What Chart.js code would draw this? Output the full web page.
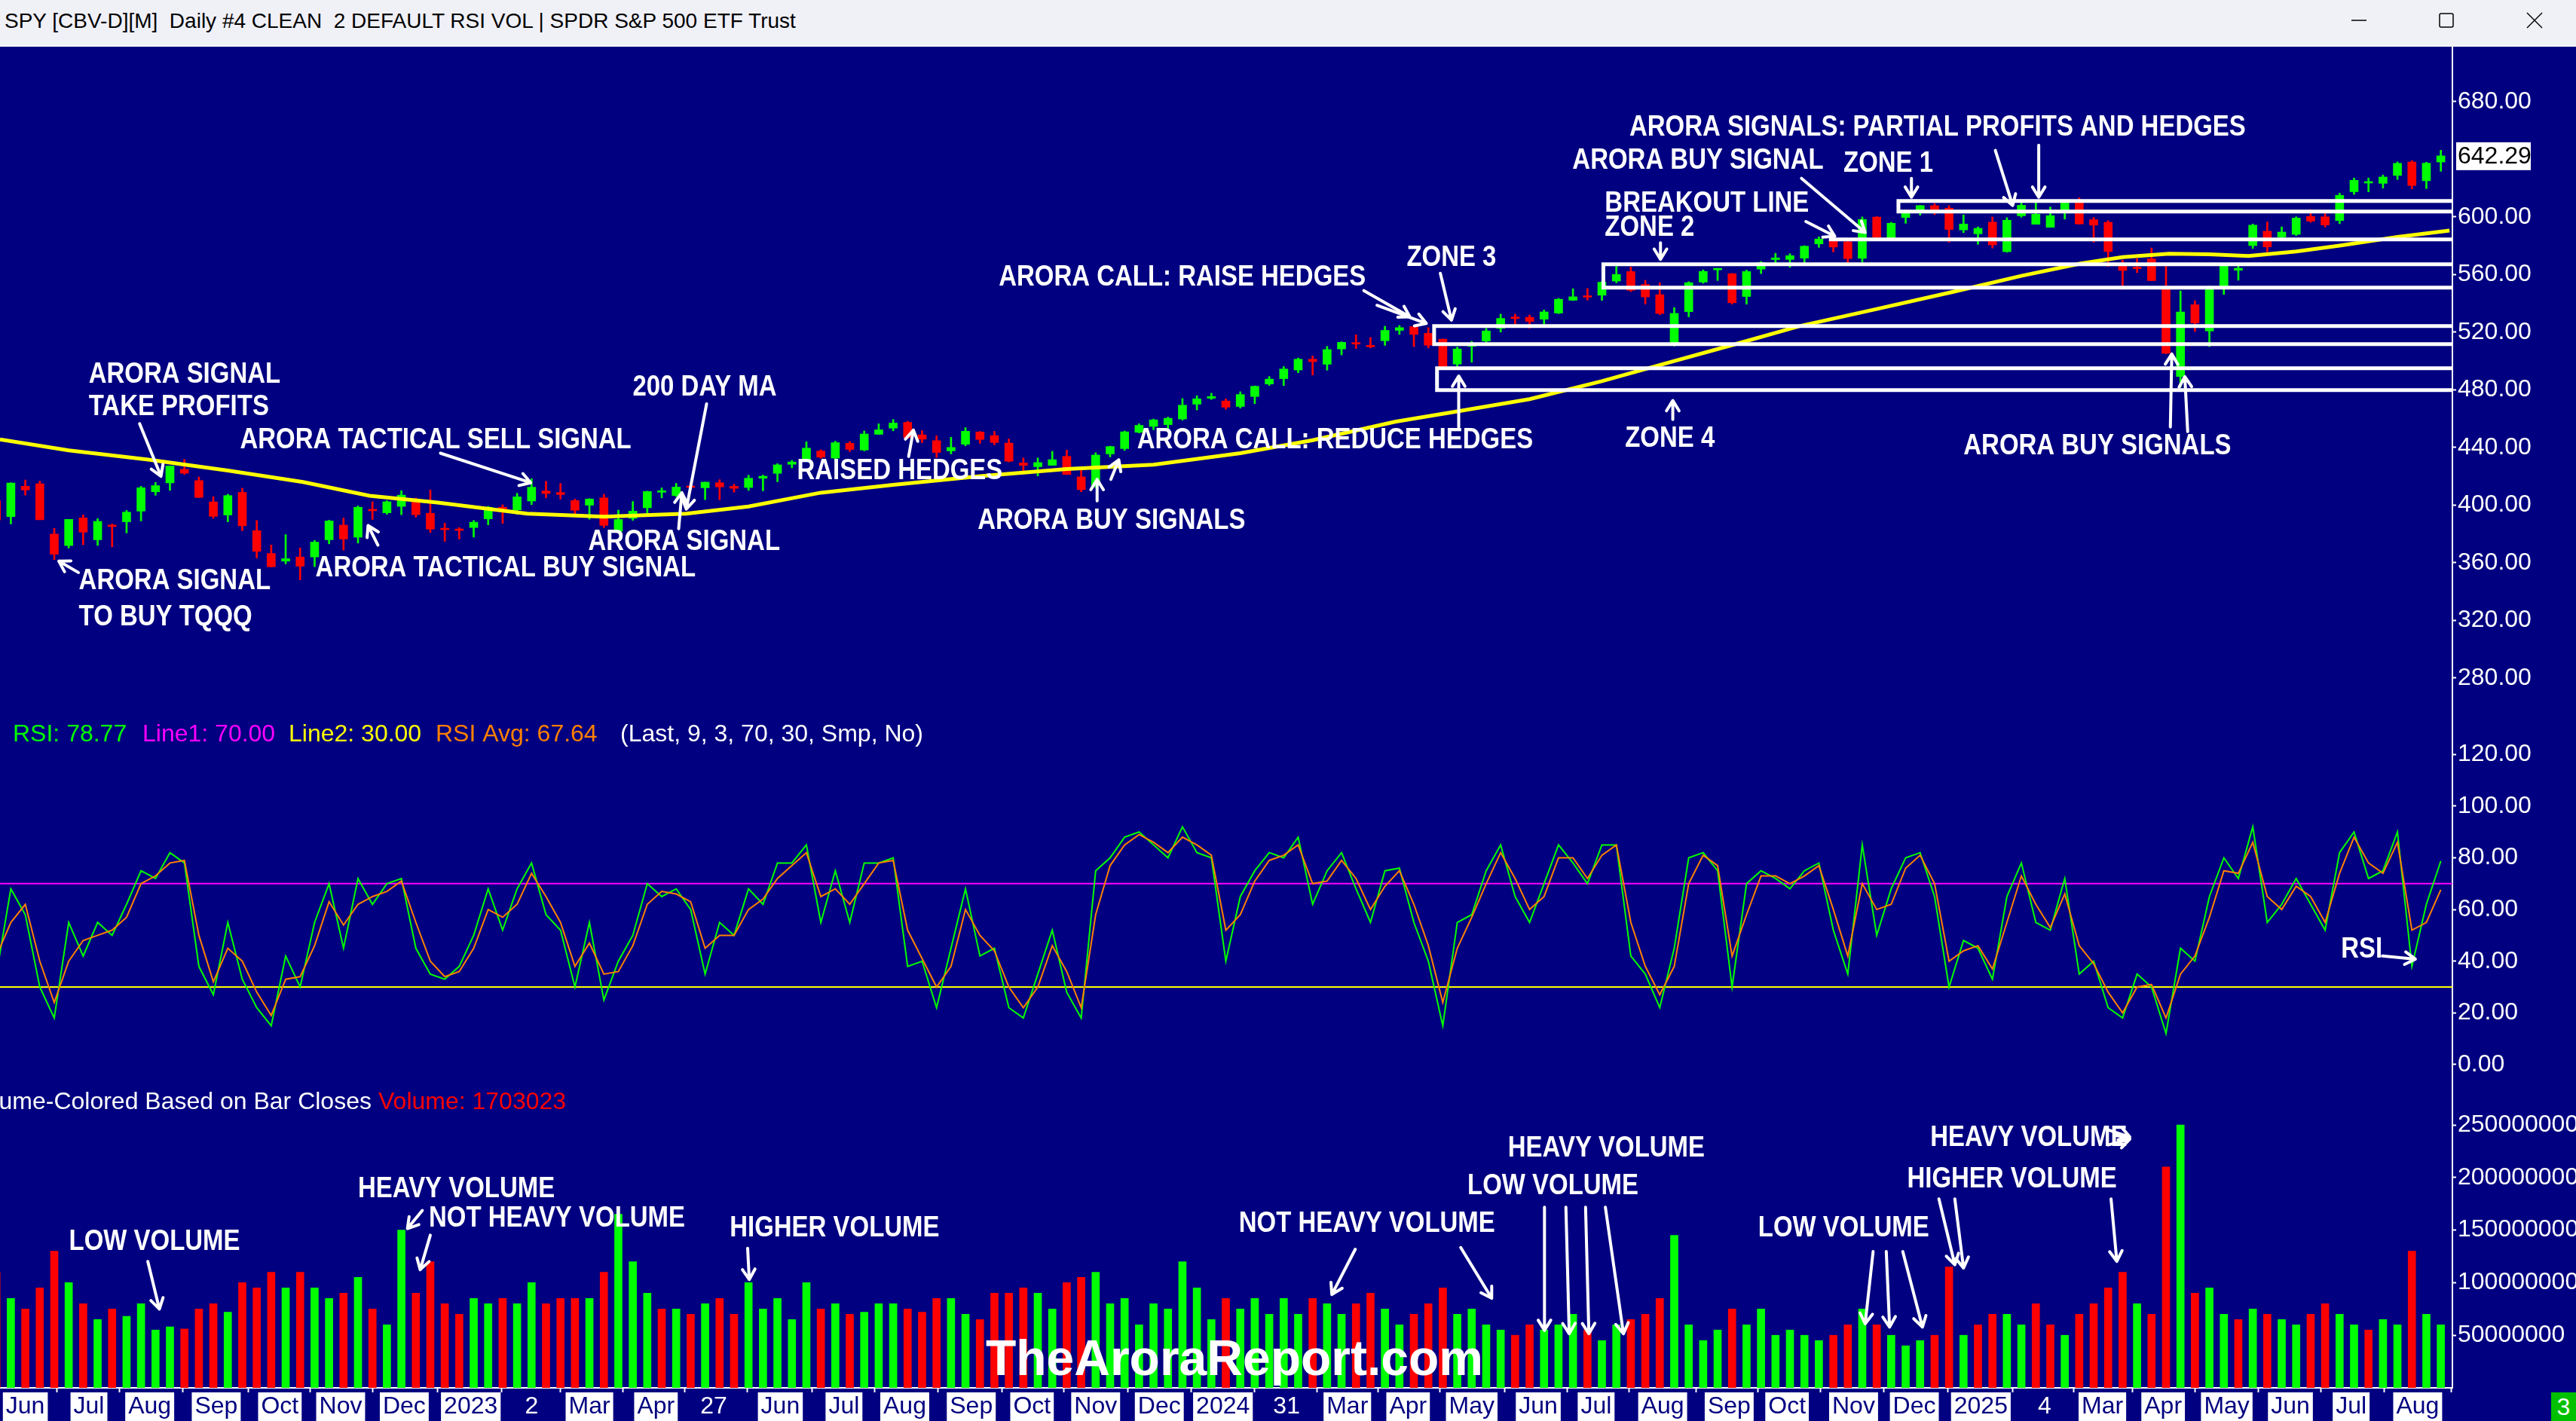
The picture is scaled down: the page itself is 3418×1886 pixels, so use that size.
<!DOCTYPE html>
<html>
<head>
<meta charset="utf-8">
<title>SPY Daily</title>
<script src="https://cdn.jsdelivr.net/npm/chart.js@4.4.1/dist/chart.umd.min.js"></script>
<style>
  html, body { margin: 0; padding: 0; background: #000080; overflow: hidden; width: 3418px; height: 1886px; }
  #bar { position: absolute; left: 0; top: 0; width: 3418px; height: 62px; background: #f0f0f7; }
  #title { position: absolute; left: 6px; top: 12px; white-space: pre; font: 28px "Liberation Sans", Arial, sans-serif; color: #000; }
  #wrap { position: absolute; left: 0; top: 62px; width: 3418px; height: 1824px; }
  #badge { position: absolute; left: 3385px; top: 1848px; width: 33px; height: 38px; background: #00c000; color: #fff;
           font: 32px "Liberation Sans", Arial, sans-serif; text-align: center; line-height: 38px; }
</style>
</head>
<body>
<div id="bar">
  <div id="title">SPY [CBV-D][M]  Daily #4 CLEAN  2 DEFAULT RSI VOL | SPDR S&amp;P 500 ETF Trust</div>
  <svg style="position:absolute;left:3100px;top:0" width="318" height="62">
    <line x1="20" y1="27" x2="40" y2="27" stroke="#000" stroke-width="1.5"/>
    <rect x="137" y="18" width="18" height="18" rx="2" fill="none" stroke="#000" stroke-width="1.5"/>
    <line x1="253" y1="17" x2="273" y2="37" stroke="#000" stroke-width="1.5"/>
    <line x1="273" y1="17" x2="253" y2="37" stroke="#000" stroke-width="1.5"/>
  </svg>
</div>
<div id="wrap"><canvas id="chart" width="3418" height="1824" style="width:3418px;height:1824px"></canvas></div>
<div id="badge">3</div>

<script>
// weekly bars, index 0 = week of 16 May 2022, last = week of 11 Aug 2025
const OPEN = [
  403.0, 392.0, 413.0, 414.8, 379.9, 371.9, 391.1, 375.9, 385.9, 388.4,
  395.8, 409.2, 415.4, 424.8, 417.0, 402.2, 393.1, 408.8, 382.3, 366.4,
  361.1, 364.0, 364.0, 375.9, 386.1, 377.7, 396.7, 394.6, 399.1, 403.9,
  394.3, 383.5, 382.8, 384.4, 390.4, 398.5, 396.7, 402.8, 409.8, 408.7,
  403.1, 399.9, 405.0, 381.8, 390.8, 398.1, 408.9, 406.6, 412.4, 412.0,
  415.5, 413.0, 412.2, 418.6, 422.0, 428.3, 430.9, 437.5, 432.6, 442.9,
  438.2, 449.1, 453.4, 457.4, 448.7, 444.7, 437.6, 442.2, 450.7, 448.2,
  443.0, 429.2, 426.6, 427.6, 433.8, 419.6, 413.6, 435.5, 439.2, 450.5,
  454.6, 455.8, 459.7, 470.0, 474.1, 472.2, 468.4, 475.3, 484.0, 487.7,
  493.7, 501.2, 497.7, 508.3, 512.0, 510.5, 514.0, 521.2, 523.8, 519.2,
  515.1, 497.8, 510.1, 513.8, 522.6, 529.6, 530.3, 529.0, 533.2, 542.1,
  544.3, 545.6, 555.4, 562.0, 553.0, 546.0, 511.6, 534.2, 554.7, 563.2,
  560.5, 544.7, 563.7, 570.3, 570.4, 571.3, 581.2, 584.1, 582.6, 571.2,
  599.8, 584.7, 599.5, 602.9, 607.7, 606.0, 590.9, 588.2, 596.3, 575.8,
  600.7, 594.8, 592.7, 604.0, 610.9, 598.0, 596.2, 567.6, 564.5, 570.8,
  549.8, 489.2, 539.0, 520.8, 551.0, 562.9, 580.0, 590.0, 586.0, 587.8,
  600.2, 600.0, 597.4, 617.4, 623.4, 623.2, 628.7, 638.0, 625.0, 638.0
];
const HIGH = [
  408.0, 415.5, 417.4, 416.6, 383.9, 390.1, 393.2, 390.6, 386.9, 396.3,
  413.0, 415.7, 427.2, 431.7, 419.5, 405.8, 407.5, 411.7, 389.3, 372.3,
  379.5, 370.3, 375.5, 389.5, 391.0, 399.4, 402.3, 403.0, 410.0, 404.9,
  410.5, 387.4, 384.4, 389.3, 399.1, 400.2, 408.2, 418.3, 416.5, 415.0,
  404.2, 404.5, 407.5, 396.5, 402.5, 409.7, 411.9, 415.1, 415.7, 415.9,
  417.6, 414.5, 420.7, 420.8, 428.7, 431.0, 443.9, 438.4, 444.3, 444.1,
  451.4, 456.4, 459.4, 458.2, 451.7, 448.1, 447.0, 453.7, 451.1, 451.1,
  445.9, 432.7, 432.7, 437.3, 438.1, 424.8, 436.3, 440.9, 451.4, 456.4,
  459.7, 461.0, 473.9, 475.9, 477.6, 473.7, 478.6, 482.7, 489.2, 496.1,
  502.0, 503.5, 510.1, 513.3, 518.2, 516.3, 524.1, 524.6, 524.4, 523.1,
  515.3, 509.6, 513.6, 522.6, 532.5, 532.5, 531.9, 535.4, 543.4, 550.1,
  550.3, 555.0, 566.0, 565.2, 556.0, 554.3, 537.0, 555.0, 563.2, 564.2,
  560.8, 563.0, 569.0, 574.7, 574.4, 580.0, 586.1, 585.8, 584.3, 599.9,
  600.2, 596.2, 603.3, 607.9, 609.1, 607.8, 601.3, 593.0, 599.9, 599.4,
  610.8, 610.0, 606.8, 610.0, 613.2, 599.6, 597.3, 570.0, 570.9, 578.4,
  566.5, 548.6, 541.8, 551.9, 567.0, 567.6, 595.0, 596.5, 593.0, 600.0,
  605.0, 604.0, 616.4, 626.9, 626.9, 629.0, 638.1, 639.0, 637.9, 646.2
];
const LOW = [
  380.5, 386.9, 406.9, 389.8, 362.2, 370.2, 372.5, 372.0, 371.0, 380.7,
  389.0, 406.8, 410.2, 421.2, 405.2, 390.8, 388.4, 382.2, 363.3, 357.0,
  359.2, 348.1, 357.3, 373.1, 368.8, 373.6, 390.0, 393.6, 393.3, 391.5,
  381.0, 374.8, 376.4, 377.8, 386.3, 387.3, 393.6, 400.3, 405.0, 404.1,
  393.6, 390.2, 384.3, 380.7, 389.4, 393.7, 405.0, 405.9, 410.2, 403.8,
  403.7, 408.9, 410.2, 409.9, 416.2, 425.8, 430.2, 432.5, 431.2, 437.1,
  437.6, 449.0, 451.5, 446.3, 443.3, 433.0, 435.5, 441.1, 442.8, 441.8,
  429.9, 422.3, 420.2, 427.5, 421.2, 409.2, 412.2, 433.4, 437.9, 450.0,
  452.3, 453.0, 458.9, 466.0, 473.3, 466.4, 467.3, 470.4, 483.0, 482.9,
  491.8, 490.2, 493.6, 504.2, 508.6, 509.1, 510.8, 518.4, 509.9, 509.0,
  493.9, 496.0, 499.1, 512.9, 520.0, 524.4, 522.6, 525.2, 532.8, 541.9,
  542.2, 542.0, 554.2, 548.1, 539.4, 532.1, 510.3, 530.6, 553.9, 555.8,
  539.4, 539.4, 560.6, 567.4, 565.0, 566.6, 578.8, 575.6, 568.4, 568.6,
  585.3, 584.3, 595.5, 601.1, 601.5, 582.4, 589.0, 580.9, 578.3, 575.4,
  599.7, 594.8, 592.7, 598.4, 595.0, 582.4, 565.6, 549.7, 561.2, 555.6,
  505.0, 481.8, 520.5, 510.0, 546.1, 556.0, 578.0, 575.7, 583.4, 587.0,
  596.2, 592.9, 595.2, 615.5, 617.3, 619.9, 625.9, 619.3, 619.6, 631.6
];
const CLOSE = [
  389.6, 415.3, 410.5, 389.8, 365.9, 390.1, 381.2, 388.7, 385.1, 395.1,
  412.0, 413.5, 427.1, 422.1, 405.3, 392.2, 406.6, 385.6, 367.9, 357.2,
  362.8, 357.6, 374.3, 389.0, 376.4, 398.5, 396.0, 402.3, 406.9, 393.3,
  383.3, 382.9, 382.4, 388.1, 398.5, 395.9, 405.7, 412.4, 408.0, 407.3,
  396.4, 404.2, 385.9, 390.0, 395.8, 409.4, 409.2, 412.5, 412.2, 415.9,
  412.6, 411.6, 418.6, 420.0, 427.9, 429.9, 439.5, 433.2, 443.3, 438.6,
  449.3, 452.2, 456.9, 446.8, 445.7, 436.5, 440.0, 451.2, 445.5, 443.4,
  430.4, 427.5, 429.5, 431.5, 421.2, 410.7, 434.7, 440.6, 450.8, 455.3,
  459.1, 460.2, 469.3, 473.7, 475.3, 467.9, 476.7, 482.4, 487.4, 494.4,
  501.2, 499.5, 507.9, 512.9, 511.7, 509.8, 521.2, 523.1, 518.4, 510.9,
  495.2, 508.3, 511.3, 520.8, 529.5, 529.4, 527.4, 534.0, 542.8, 544.5,
  544.2, 554.6, 560.0, 549.0, 544.4, 532.9, 533.0, 554.3, 562.1, 563.7,
  540.4, 562.0, 568.3, 571.5, 573.0, 579.6, 584.6, 579.0, 571.0, 598.2,
  585.8, 595.5, 602.6, 607.8, 604.2, 591.2, 595.0, 592.0, 580.5, 597.6,
  608.0, 601.8, 600.8, 609.7, 595.0, 594.2, 575.9, 562.8, 564.0, 555.7,
  505.3, 533.9, 526.4, 550.6, 566.8, 564.3, 594.2, 579.1, 589.4, 599.1,
  597.0, 594.3, 614.9, 625.3, 623.6, 627.6, 637.1, 621.7, 637.2, 642.29
];
// volume, millions of shares
const VOLUME = [
  110, 85, 75, 95, 130, 100, 80, 65, 75, 68,
  80, 55, 58, 56, 75, 80, 72, 100, 95, 110,
  95, 110, 95, 85, 90, 105, 75, 60, 150, 90,
  120, 80, 70, 85, 80, 85, 80, 100, 80, 85,
  85, 85, 110, 165, 120, 90, 75, 75, 70, 80,
  85, 70, 100, 75, 85, 65, 100, 75, 80, 70,
  72, 80, 80, 75, 72, 85, 85, 70, 65, 90,
  90, 95, 90, 75, 100, 105, 110, 80, 85, 60,
  80, 75, 120, 95, 65, 85, 75, 85, 70, 85,
  70, 85, 80, 70, 80, 90, 75, 60, 70, 80,
  95, 70, 75, 60, 55, 50, 60, 55, 60, 70,
  55, 45, 60, 65, 70, 85, 145, 60, 45, 55,
  75, 60, 75, 50, 55, 50, 45, 50, 60, 75,
  60, 50, 40, 45, 50, 115, 50, 60, 70, 70,
  60, 80, 60, 50, 70, 80, 95, 110, 80, 70,
  210, 250, 90, 95, 70, 65, 75, 70, 65, 60,
  70, 80, 70, 60, 55, 65, 60, 130, 70, 60
];
const RSI = [
  35, 68, 58, 30, 18, 55, 42, 55, 50, 62,
  75, 72, 82, 78, 38, 27, 55, 33, 22, 15,
  42, 30, 55, 70, 45, 72, 62, 70, 72, 45,
  35, 33, 38, 50, 68, 52, 68, 78, 58, 52,
  30, 55, 25, 40, 50, 70, 65, 68, 60, 35,
  55, 50, 68, 62, 78, 78, 85, 55, 75, 55,
  78, 78, 80, 38, 40, 22, 45, 68, 42, 45,
  22, 18, 35, 52, 28, 18, 75, 80, 88, 90,
  85, 80, 92, 82, 80, 40, 65, 75, 82, 80,
  88, 62, 75, 82, 68, 55, 75, 76, 55, 40,
  15, 55, 58, 75, 85, 65, 55, 70, 85, 78,
  70, 85, 85, 42, 35, 22, 45, 80, 82, 75,
  30, 70, 75, 72, 68, 75, 78, 52, 35, 85,
  50, 68, 80, 82, 65, 30, 48, 45, 33, 65,
  78, 55, 52, 72, 35, 40, 22, 18, 35, 30,
  12, 45, 40, 65, 80, 72, 92, 55, 62, 72,
  62, 52, 82, 90, 72, 75, 90, 38, 62, 78.77
];
const RSI_AVG = [
  42, 55, 62, 40, 24, 40, 48, 50, 52, 57,
  70, 73, 78, 79, 50, 32, 45, 40, 28, 19,
  33, 34, 46, 63, 54, 62, 65, 67, 71, 55,
  40, 34, 36, 45, 60, 57, 62, 74, 65, 55,
  38, 47, 35, 36, 46, 62, 67, 66, 63, 45,
  50, 50, 60, 64, 72, 77, 82, 65, 68, 62,
  70, 78, 79, 52, 41, 30, 38, 60, 50, 44,
  30, 22, 30, 46, 36, 22, 58, 77, 85, 89,
  86, 82, 88, 85, 81, 52, 58, 71, 79, 81,
  85, 70, 71, 79, 72, 60, 69, 75, 62, 46,
  24, 45, 57, 70, 82, 72, 60, 65, 80, 80,
  72, 81, 85, 55, 38, 27, 38, 70, 81, 77,
  42, 58, 73, 73, 70, 73, 77, 60, 42, 70,
  60, 62, 76, 81, 70, 40, 44, 46, 37, 55,
  73, 62, 53, 66, 46, 39, 28, 20, 30, 31,
  18, 35, 42, 57, 75, 74, 86, 65, 60, 69,
  65, 55, 74, 88, 78, 74, 86, 52, 55, 67.64
];
// 200 day moving average: week position, price
const MA_WEEK = [0.25, 5, 10.5, 16, 21.2, 25.8, 30.5, 36.7, 42, 47.7, 52, 57, 62, 68, 74, 80, 86, 91, 96.7,
                 101, 106, 111, 115.3, 120, 124.6, 130, 135.3, 140, 144.1, 147, 150.2, 153, 155.7, 159, 162, 166, 169.6];
const MA_PRICE = [445.5, 438, 431.6, 424, 416, 406.5, 401.8, 394, 392, 394, 399, 408.6, 414, 420, 425, 428, 436, 445, 457.8,
                  465, 473.5, 486, 498, 511, 524, 536, 548, 559, 567.6, 572, 574.4, 574, 572.8, 576, 580, 586, 590.5];

const TICK_POS = [2.0, 6.4, 10.6, 15.2, 19.6, 23.8, 28.2, 32.8, 37.0, 41.0, 45.6, 49.6, 54.2, 58.6, 62.8, 67.4, 71.6, 76.0, 80.4,
                  84.8, 89.2, 93.4, 97.6, 102.0, 106.6, 110.6, 115.2, 119.8, 123.8, 128.4, 132.6, 137.2, 141.6, 145.6, 149.8,
                  154.2, 158.6, 162.8, 167.4];
const TICK_LABELS = ['Jun', 'Jul', 'Aug', 'Sep', 'Oct', 'Nov', 'Dec', '2023', '2', 'Mar', 'Apr', '27', 'Jun', 'Jul', 'Aug', 'Sep',
                     'Oct', 'Nov', 'Dec', '2024', '31', 'Mar', 'Apr', 'May', 'Jun', 'Jul', 'Aug', 'Sep', 'Oct', 'Nov', 'Dec',
                     '2025', '4', 'Mar', 'Apr', 'May', 'Jun', 'Jul', 'Aug'];
const DAY_LABELS = ['2', '27', '31', '4'];
const PRICE_TICKS = [280, 320, 360, 400, 440, 480, 520, 560, 600, 680];
const RSI_TICKS = [0, 20, 40, 60, 80, 100, 120];
const VOL_TICKS = [50e6, 100e6, 150e6, 200e6, 250e6];
const RSI_LINE1 = 70, RSI_LINE2 = 30;

// hand-drawn notes on the original: [text, week, value]
const PRICE_NOTES = [
  ['ARORA SIGNAL', 6.38, 490.7], ['TAKE PROFITS', 6.38, 467.9],
  ['ARORA TACTICAL SELL SIGNAL', 16.84, 445.1], ['200 DAY MA', 43.99, 481.6],
  ['RAISED HEDGES', 55.35, 423.4], ['ARORA SIGNAL', 40.92, 374.4],
  ['ARORA TACTICAL BUY SIGNAL', 22.06, 356.2], ['ARORA SIGNAL', 5.7, 347.1], ['TO BUY TQQQ', 5.7, 322.0],
  ['ARORA BUY SIGNALS', 67.84, 389.3], ['ARORA CALL: RAISE HEDGES', 69.3, 558.0],
  ['ARORA CALL: REDUCE HEDGES', 78.86, 445.1], ['ZONE 3', 97.5, 571.6], ['ZONE 4', 112.6, 446.2],
  ['ZONE 2', 111.2, 592.2], ['BREAKOUT LINE', 111.2, 609.3], ['ARORA BUY SIGNAL', 108.96, 638.9],
  ['ZONE 1', 127.7, 636.6], ['ARORA SIGNALS: PARTIAL PROFITS AND HEDGES', 112.9, 661.7],
  ['ARORA BUY SIGNALS', 136.0, 440.6]
];
const PRICE_ARROWS = [
  [9.9, 456.5, 11.38, 420.0], [30.7, 436.0, 36.94, 415.5], [49.1, 470.2, 47.7, 397.2], [63.07, 433.7, 63.4, 452.0],
  [47.17, 383.6, 47.39, 408.6], [26.38, 372.2, 25.7, 385.8], [5.67, 353.2, 4.32, 361.1], [76.1, 402.9, 76.1, 417.8],
  [77.05, 417.8, 77.6, 431.4], [94.54, 548.8, 97.72, 530.6], [95.45, 538.6, 98.86, 526.0], [101.1, 454.2, 101.1, 489.5],
  [99.83, 560.8, 100.6, 528.3], [115.9, 459.4, 115.9, 472.5], [115.05, 581.9, 115.05, 570.5], [125.1, 596.7, 127.1, 586.5],
  [124.8, 626.7, 129.2, 589.1], [132.4, 626.7, 132.4, 613.6], [138.2, 646.1, 139.4, 607.9], [141.2, 649.7, 141.2, 613.6],
  [150.3, 454.2, 150.4, 504.8], [151.5, 451.0, 151.3, 489.1]
];
// zones: [start week, upper price, lower price]
const ZONES = [[131.5, 611.0, 603.7], [111.1, 567.0, 550.9], [99.4, 524.2, 511.6], [99.6, 494.9, 479.8]];
const BREAKOUT = [126.7, 584.3];
const VOL_NOTES = [
  ['LOW VOLUME', 5.02, 139], ['HEAVY VOLUME', 25.0, 189], ['NOT HEAVY VOLUME', 29.9, 160.9],
  ['HIGHER VOLUME', 50.7, 151.5], ['NOT HEAVY VOLUME', 85.9, 156.2], ['HEAVY VOLUME', 104.5, 228],
  ['LOW VOLUME', 101.7, 192.1], ['LOW VOLUME', 121.8, 151.5], ['HIGHER VOLUME', 132.1, 198.4], ['HEAVY VOLUME', 133.7, 237.5]
];
const VOL_ARROWS = [
  [10.47, 120.2, 11.27, 74.9], [29.45, 168.7, 28.42, 151.5], [30.0, 145.2, 29.3, 112.4], [51.94, 132.7, 52.05, 103],
  [93.95, 131.8, 92.33, 88.8], [101.24, 133.4, 103.38, 85.2], [107.03, 171.8, 107.03, 54.6], [108.51, 171.8, 108.74, 51.5],
  [109.87, 171.8, 110.1, 51.5], [111.24, 171.8, 112.49, 51.5], [129.75, 129.6, 129.2, 60.9], [130.66, 129.6, 130.89, 57.8],
  [131.8, 129.6, 133.16, 57.8], [134.3, 179.6, 135.4, 117.1], [135.4, 179.6, 136.0, 114], [146.2, 179.6, 146.6, 120.3],
  [146.0, 245.3, 147.5, 238.5], [146.0, 231.0, 147.5, 236.5]
];
const RSI_NOTES = [['RSI', 162.1, 44.6]];
const RSI_ARROWS = [[164.96, 42, 167.24, 40.8]];
const WATERMARK = ['TheAroraReport.com', 68.4, 25.1];

const X_MIN = 0.25, X_MAX = 169.8;
const FONT = '"Liberation Sans", Arial, sans-serif';
Chart.defaults.font.family = FONT;

const UP = '#00ff00', DOWN = '#ff0000';
const candleColors = CLOSE.map((c, i) => c >= OPEN[i] ? UP : DOWN);
const volColors = CLOSE.map((c, i) => c >= (i ? CLOSE[i - 1] : OPEN[i]) ? UP : DOWN);

const bodies = CLOSE.map((c, i) => ({ x: i, y: [OPEN[i], c] }));
const wicks = CLOSE.map((c, i) => ({ x: i, y: [LOW[i], HIGH[i]] }));
const vols = VOLUME.map((v, i) => ({ x: i, y: v * 1e6 }));
const rsiPts = RSI.map((v, i) => ({ x: i, y: v }));
const avgPts = RSI_AVG.map((v, i) => ({ x: i, y: v }));
const maPts = MA_WEEK.map((w, i) => ({ x: w, y: MA_PRICE[i] }));

function yAxis(min, max, weight, ticks, fmt) {
  return {
    type: 'linear', position: 'right', stack: 'panels', stackWeight: weight, min: min, max: max, offset: false,
    afterBuildTicks: s => { s.ticks = ticks.map(v => ({ value: v })); },
    afterFit: s => { s.width = 164; s.paddingTop = 0; s.paddingBottom = 0; },
    grid: { drawOnChartArea: false, color: '#fff', tickLength: 5, tickWidth: 2 },
    border: { color: '#fff', width: 2 },
    ticks: { color: '#fff', font: { size: 32 }, padding: 2, callback: fmt }
  };
}

function arrow(ctx, x1, y1, x2, y2) {
  const a = Math.atan2(y2 - y1, x2 - x1), h = 16;
  ctx.beginPath();
  ctx.moveTo(x1, y1); ctx.lineTo(x2, y2);
  ctx.moveTo(x2 - h * Math.cos(a - 0.55), y2 - h * Math.sin(a - 0.55));
  ctx.lineTo(x2, y2);
  ctx.lineTo(x2 - h * Math.cos(a + 0.55), y2 - h * Math.sin(a + 0.55));
  ctx.stroke();
}
function note(ctx, text, x, y) {
  ctx.save(); ctx.translate(x, y); ctx.scale(0.845, 1); ctx.fillText(text, 0, 0); ctx.restore();
}

const notesPlugin = {
  id: 'notes',
  afterDatasetsDraw(chart) {
    const { ctx, chartArea } = chart;
    const { x, yPrice, yRsi, yVol } = chart.scales;
    ctx.save();
    ctx.strokeStyle = '#fff'; ctx.fillStyle = '#fff';
    ctx.lineWidth = 5;
    ZONES.forEach(([w, hi, lo]) => {
      const l = x.getPixelForValue(w), r = chartArea.right;
      const t = yPrice.getPixelForValue(hi), b = yPrice.getPixelForValue(lo);
      ctx.beginPath(); ctx.moveTo(r, t); ctx.lineTo(l, t); ctx.lineTo(l, b); ctx.lineTo(r, b); ctx.stroke();
    });
    const by = yPrice.getPixelForValue(BREAKOUT[1]);
    ctx.beginPath(); ctx.moveTo(x.getPixelForValue(BREAKOUT[0]), by); ctx.lineTo(chartArea.right, by); ctx.stroke();

    ctx.lineWidth = 4; ctx.lineCap = 'round'; ctx.lineJoin = 'round';
    PRICE_ARROWS.forEach(a => arrow(ctx, x.getPixelForValue(a[0]), yPrice.getPixelForValue(a[1]), x.getPixelForValue(a[2]), yPrice.getPixelForValue(a[3])));
    VOL_ARROWS.forEach(a => arrow(ctx, x.getPixelForValue(a[0]), yVol.getPixelForValue(a[1] * 1e6), x.getPixelForValue(a[2]), yVol.getPixelForValue(a[3] * 1e6)));
    RSI_ARROWS.forEach(a => arrow(ctx, x.getPixelForValue(a[0]), yRsi.getPixelForValue(a[1]), x.getPixelForValue(a[2]), yRsi.getPixelForValue(a[3])));

    ctx.font = 'bold 39px ' + FONT; ctx.textBaseline = 'middle'; ctx.textAlign = 'left';
    PRICE_NOTES.forEach(([t, w, p]) => note(ctx, t, x.getPixelForValue(w), yPrice.getPixelForValue(p)));
    VOL_NOTES.forEach(([t, w, v]) => note(ctx, t, x.getPixelForValue(w), yVol.getPixelForValue(v * 1e6)));
    RSI_NOTES.forEach(([t, w, v]) => note(ctx, t, x.getPixelForValue(w), yRsi.getPixelForValue(v)));

    ctx.font = 'bold 66px ' + FONT;
    ctx.fillText(WATERMARK[0], x.getPixelForValue(WATERMARK[1]), yVol.getPixelForValue(WATERMARK[2] * 1e6));
    ctx.restore();
  },
  afterDraw(chart) {
    const { ctx } = chart;
    const { yPrice, yRsi, yVol } = chart.scales;
    ctx.save();
    ctx.font = '32px ' + FONT; ctx.textBaseline = 'middle'; ctx.textAlign = 'left';
    const ry = yRsi.top + 33;
    [['RSI: ' + RSI[RSI.length - 1].toFixed(2), '#00ff00', 17], ['Line1: ' + RSI_LINE1.toFixed(2), '#ff00ff', 189],
     ['Line2: ' + RSI_LINE2.toFixed(2), '#ffff00', 383], ['RSI Avg: ' + RSI_AVG[RSI_AVG.length - 1].toFixed(2), '#ff8000', 578],
     ['(Last, 9, 3, 70, 30, Smp, No)', '#ffffff', 823]].forEach(([t, c, l]) => { ctx.fillStyle = c; ctx.fillText(t, l, ry); });
    const vy = yVol.top + 23;
    ctx.fillStyle = '#fff'; ctx.fillText('Volume-Colored Based on Bar Closes', -46, vy);
    ctx.fillStyle = '#ff0000'; ctx.fillText('Volume: 1703023', 502, vy);

    const last = CLOSE[CLOSE.length - 1];
    const py = yPrice.getPixelForValue(last);
    ctx.fillStyle = '#fff'; ctx.fillRect(yPrice.left + 5, py - 18, 99, 37);
    ctx.fillStyle = '#000'; ctx.fillText(last.toFixed(2), yPrice.left + 7, py + 1);
    ctx.restore();
  }
};

new Chart(document.getElementById('chart'), {
  type: 'bar',
  data: {
    datasets: [
      { type: 'line', data: maPts, yAxisID: 'yPrice', borderColor: '#ffff00', borderWidth: 5, pointRadius: 0 },
      { type: 'line', data: avgPts, yAxisID: 'yRsi', borderColor: '#ff8000', borderWidth: 2, pointRadius: 0 },
      { type: 'line', data: rsiPts, yAxisID: 'yRsi', borderColor: '#00ff00', borderWidth: 2, pointRadius: 0 },
      { type: 'line', data: [{ x: X_MIN, y: RSI_LINE1 }, { x: X_MAX, y: RSI_LINE1 }], yAxisID: 'yRsi', borderColor: '#ff00ff', borderWidth: 2, pointRadius: 0 },
      { type: 'line', data: [{ x: X_MIN, y: RSI_LINE2 }, { x: X_MAX, y: RSI_LINE2 }], yAxisID: 'yRsi', borderColor: '#ffff00', borderWidth: 2, pointRadius: 0 },
      { data: bodies, yAxisID: 'yPrice', backgroundColor: candleColors, barThickness: 11, minBarLength: 2, grouped: false },
      { data: wicks, yAxisID: 'yPrice', backgroundColor: candleColors, barThickness: 2, grouped: false },
      { data: vols, yAxisID: 'yVol', backgroundColor: volColors, barThickness: 10, grouped: false }
    ]
  },
  options: {
    responsive: false,
    animation: false,
    devicePixelRatio: 1,
    events: [],
    layout: { padding: 0 },
    plugins: { legend: { display: false }, tooltip: { enabled: false } },
    scales: {
      x: {
        type: 'linear', position: 'bottom', min: X_MIN, max: X_MAX, offset: false,
        afterBuildTicks: s => { s.ticks = TICK_POS.map(v => ({ value: v })); },
        afterFit: s => { s.height = 44; s.paddingLeft = 0; s.paddingRight = 0; },
        grid: { drawOnChartArea: false, color: '#fff', tickLength: 6, tickWidth: 2 },
        border: { color: '#fff', width: 2 },
        ticks: {
          autoSkip: false, maxRotation: 0, minRotation: 0, padding: 0,
          font: { size: 32 },
          callback: (v, i) => TICK_LABELS[i],
          color: c => DAY_LABELS.includes(TICK_LABELS[c.index]) ? '#ffffff' : '#000080',
          showLabelBackdrop: true,
          backdropPadding: { x: 4, y: 0 },
          backdropColor: c => DAY_LABELS.includes(TICK_LABELS[c.index]) ? 'rgba(0,0,0,0)' : '#ffffff'
        }
      },
      yPrice: yAxis(258, 718, 880, PRICE_TICKS, v => v.toFixed(2)),
      yRsi: yAxis(-7.9, 137.3, 498, RSI_TICKS, v => v.toFixed(2)),
      yVol: yAxis(0, 288e6, 402, VOL_TICKS, v => String(v))
    }
  },
  plugins: [notesPlugin]
});
</script>
</body>
</html>
